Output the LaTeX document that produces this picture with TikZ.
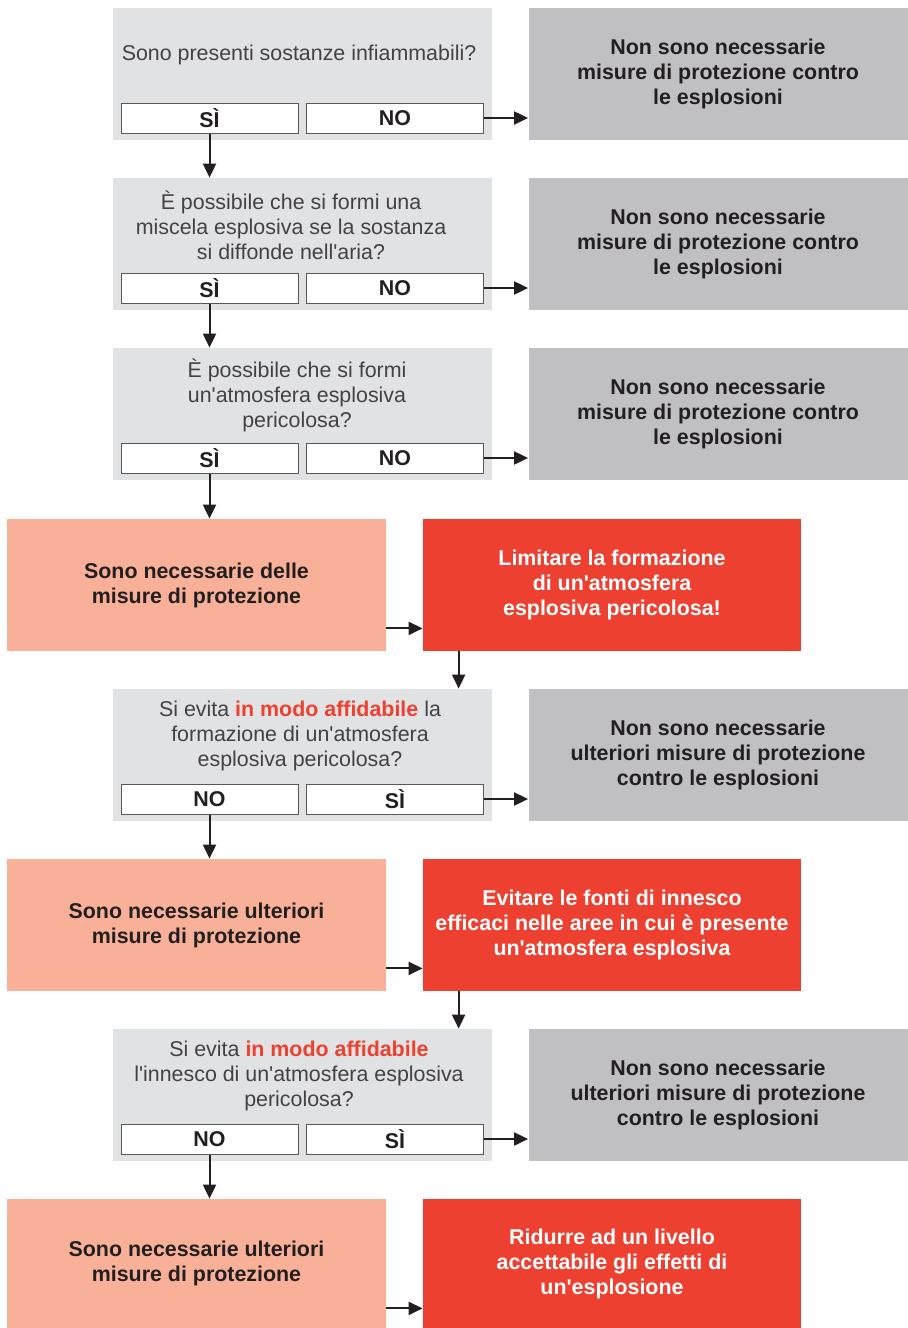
\documentclass[tikz,border=0pt]{standalone}
\usepackage{fontspec}
\setmainfont{Liberation Sans}
\usetikzlibrary{positioning,arrows.meta}
\definecolor{qgrey}{HTML}{E1E2E4}
\definecolor{ngrey}{HTML}{C0C0C2}
\definecolor{salmon}{HTML}{F8B198}
\definecolor{alarm}{HTML}{EE4030}
\definecolor{ink}{HTML}{231F20}
\newcommand{\ap}{\textquotesingle}

\begin{document}
\begin{tikzpicture}[x=0.5pt,y=-0.5pt,
  font=\fontsize{10.7}{12.5}\selectfont,
  qbox/.style={fill=qgrey,minimum width=189.5pt,minimum height=66pt,inner sep=0pt},
  qtxt/.style={align=center,text=ink!85,inner sep=0pt},
  btn/.style={draw=ink!75,line width=0.5pt,fill=white,minimum width=88.5pt,minimum height=15pt,inner sep=0pt,font=\fontsize{10.7}{12.5}\selectfont\bfseries,text=ink},
  nbox/.style={fill=ngrey,minimum width=189.5pt,minimum height=66pt,align=center,font=\fontsize{10.7}{12.5}\selectfont\bfseries,text=ink},
  sbox/.style={fill=salmon,minimum width=189.5pt,minimum height=66pt,align=center,font=\fontsize{10.7}{12.5}\selectfont\bfseries,text=ink},
  rbox/.style={fill=alarm,minimum width=189pt,minimum height=66pt,align=center,font=\fontsize{10.7}{12.5}\selectfont\bfseries,text=white},
  arr/.style={-{Triangle[length=7pt,width=6.5pt]},line width=1pt,draw=ink}]
      \useasboundingbox (0,0) rectangle (907,1328);

      \node[qbox] (q1) at (302.5,74) {};
      \node[qtxt] (q1t) at (299,55) {Sono presenti sostanze infiammabili?};
      \node[btn] (q1y) at (209.5,118) {SÌ};
      \node[btn] (q1n) at (395,118) {NO};
      \node[nbox] (g1) at (718,74) {Non sono necessarie\\misure di protezione contro\\le esplosioni};

      \node[qbox] (q2) at (302.5,244) {};
      \node[qtxt] (q2t) at (291,225) {È possibile che si formi una\\miscela esplosiva se la sostanza\\si diffonde nell\ap aria?};
      \node[btn] (q2y) at (209.5,288) {SÌ};
      \node[btn] (q2n) at (395,288) {NO};
      \node[nbox] (g2) at (718,244) {Non sono necessarie\\misure di protezione contro\\le esplosioni};

      \node[qbox] (q3) at (302.5,414) {};
      \node[qtxt] (q3t) at (297,395) {È possibile che si formi\\un\ap atmosfera esplosiva\\pericolosa?};
      \node[btn] (q3y) at (209.5,458) {SÌ};
      \node[btn] (q3n) at (395,458) {NO};
      \node[nbox] (g3) at (718,414) {Non sono necessarie\\misure di protezione contro\\le esplosioni};

      \node[sbox] (s1) at (196.5,585) {Sono necessarie delle\\misure di protezione};
      \node[rbox] (r1) at (612,585) {Limitare la formazione\\di un\ap atmosfera\\esplosiva pericolosa!};

      \node[qbox] (q4) at (302.5,755) {};
      \node[qtxt] (q4t) at (300,736) {Si evita {\color{alarm}\bfseries in modo affidabile} la\\formazione di un\ap atmosfera\\esplosiva pericolosa?};
      \node[btn] (q4n) at (209.5,799) {NO};
      \node[btn] (q4y) at (395,799) {SÌ};
      \node[nbox] (g4) at (718,755) {Non sono necessarie\\ulteriori misure di protezione\\contro le esplosioni};

      \node[sbox] (s2) at (196.5,925) {Sono necessarie ulteriori\\misure di protezione};
      \node[rbox] (r2) at (612,925) {Evitare le fonti di innesco\\efficaci nelle aree in cui è presente\\un\ap atmosfera esplosiva};

      \node[qbox] (q5) at (302.5,1095) {};
      \node[qtxt] (q5t) at (299,1076) {Si evita {\color{alarm}\bfseries in modo affidabile}\\l\ap innesco di un\ap atmosfera esplosiva\\pericolosa?};
      \node[btn] (q5n) at (209.5,1139) {NO};
      \node[btn] (q5y) at (395,1139) {SÌ};
      \node[nbox] (g5) at (718,1095) {Non sono necessarie\\ulteriori misure di protezione\\contro le esplosioni};

      \node[sbox,minimum height=64.5pt] (s3) at (196.5,1263.5) {Sono necessarie ulteriori\\misure di protezione};
      \node[rbox,minimum height=64.5pt] (r3) at (612,1263.5) {Ridurre ad un livello\\accettabile gli effetti di\\un\ap esplosione};

      \draw[arr] (q1y.south) -- (q2.north -| q1y.south);
      \draw[arr] (q2y.south) -- (q3.north -| q2y.south);
      \draw[arr] (q3y.south) -- (s1.north -| q3y.south);
      \draw[arr] (q1n.east) -- (g1.west |- q1n.east);
      \draw[arr] (q2n.east) -- (g2.west |- q2n.east);
      \draw[arr] (q3n.east) -- (g3.west |- q3n.east);
      \draw[arr] (q4y.east) -- (g4.west |- q4y.east);
      \draw[arr] (q5y.east) -- (g5.west |- q5y.east);

      \draw[arr] ([yshift=11.5pt]s1.south east) -- ([yshift=11.5pt]r1.south west);
      \draw[arr] ([yshift=11.5pt]s2.south east) -- ([yshift=11.5pt]r2.south west);
      \draw[arr] ([yshift=10pt]s3.south east) -- ([yshift=10pt]r3.south west);

      \draw[arr] ([xshift=18pt]r1.south west) -- ([xshift=18pt]r1.south west |- q4.north);
      \draw[arr] ([xshift=18pt]r2.south west) -- ([xshift=18pt]r2.south west |- q5.north);
      \draw[arr] (q4n.south) -- (s2.north -| q4n.south);
      \draw[arr] (q5n.south) -- (s3.north -| q5n.south);
    \end{tikzpicture}
\end{document}
